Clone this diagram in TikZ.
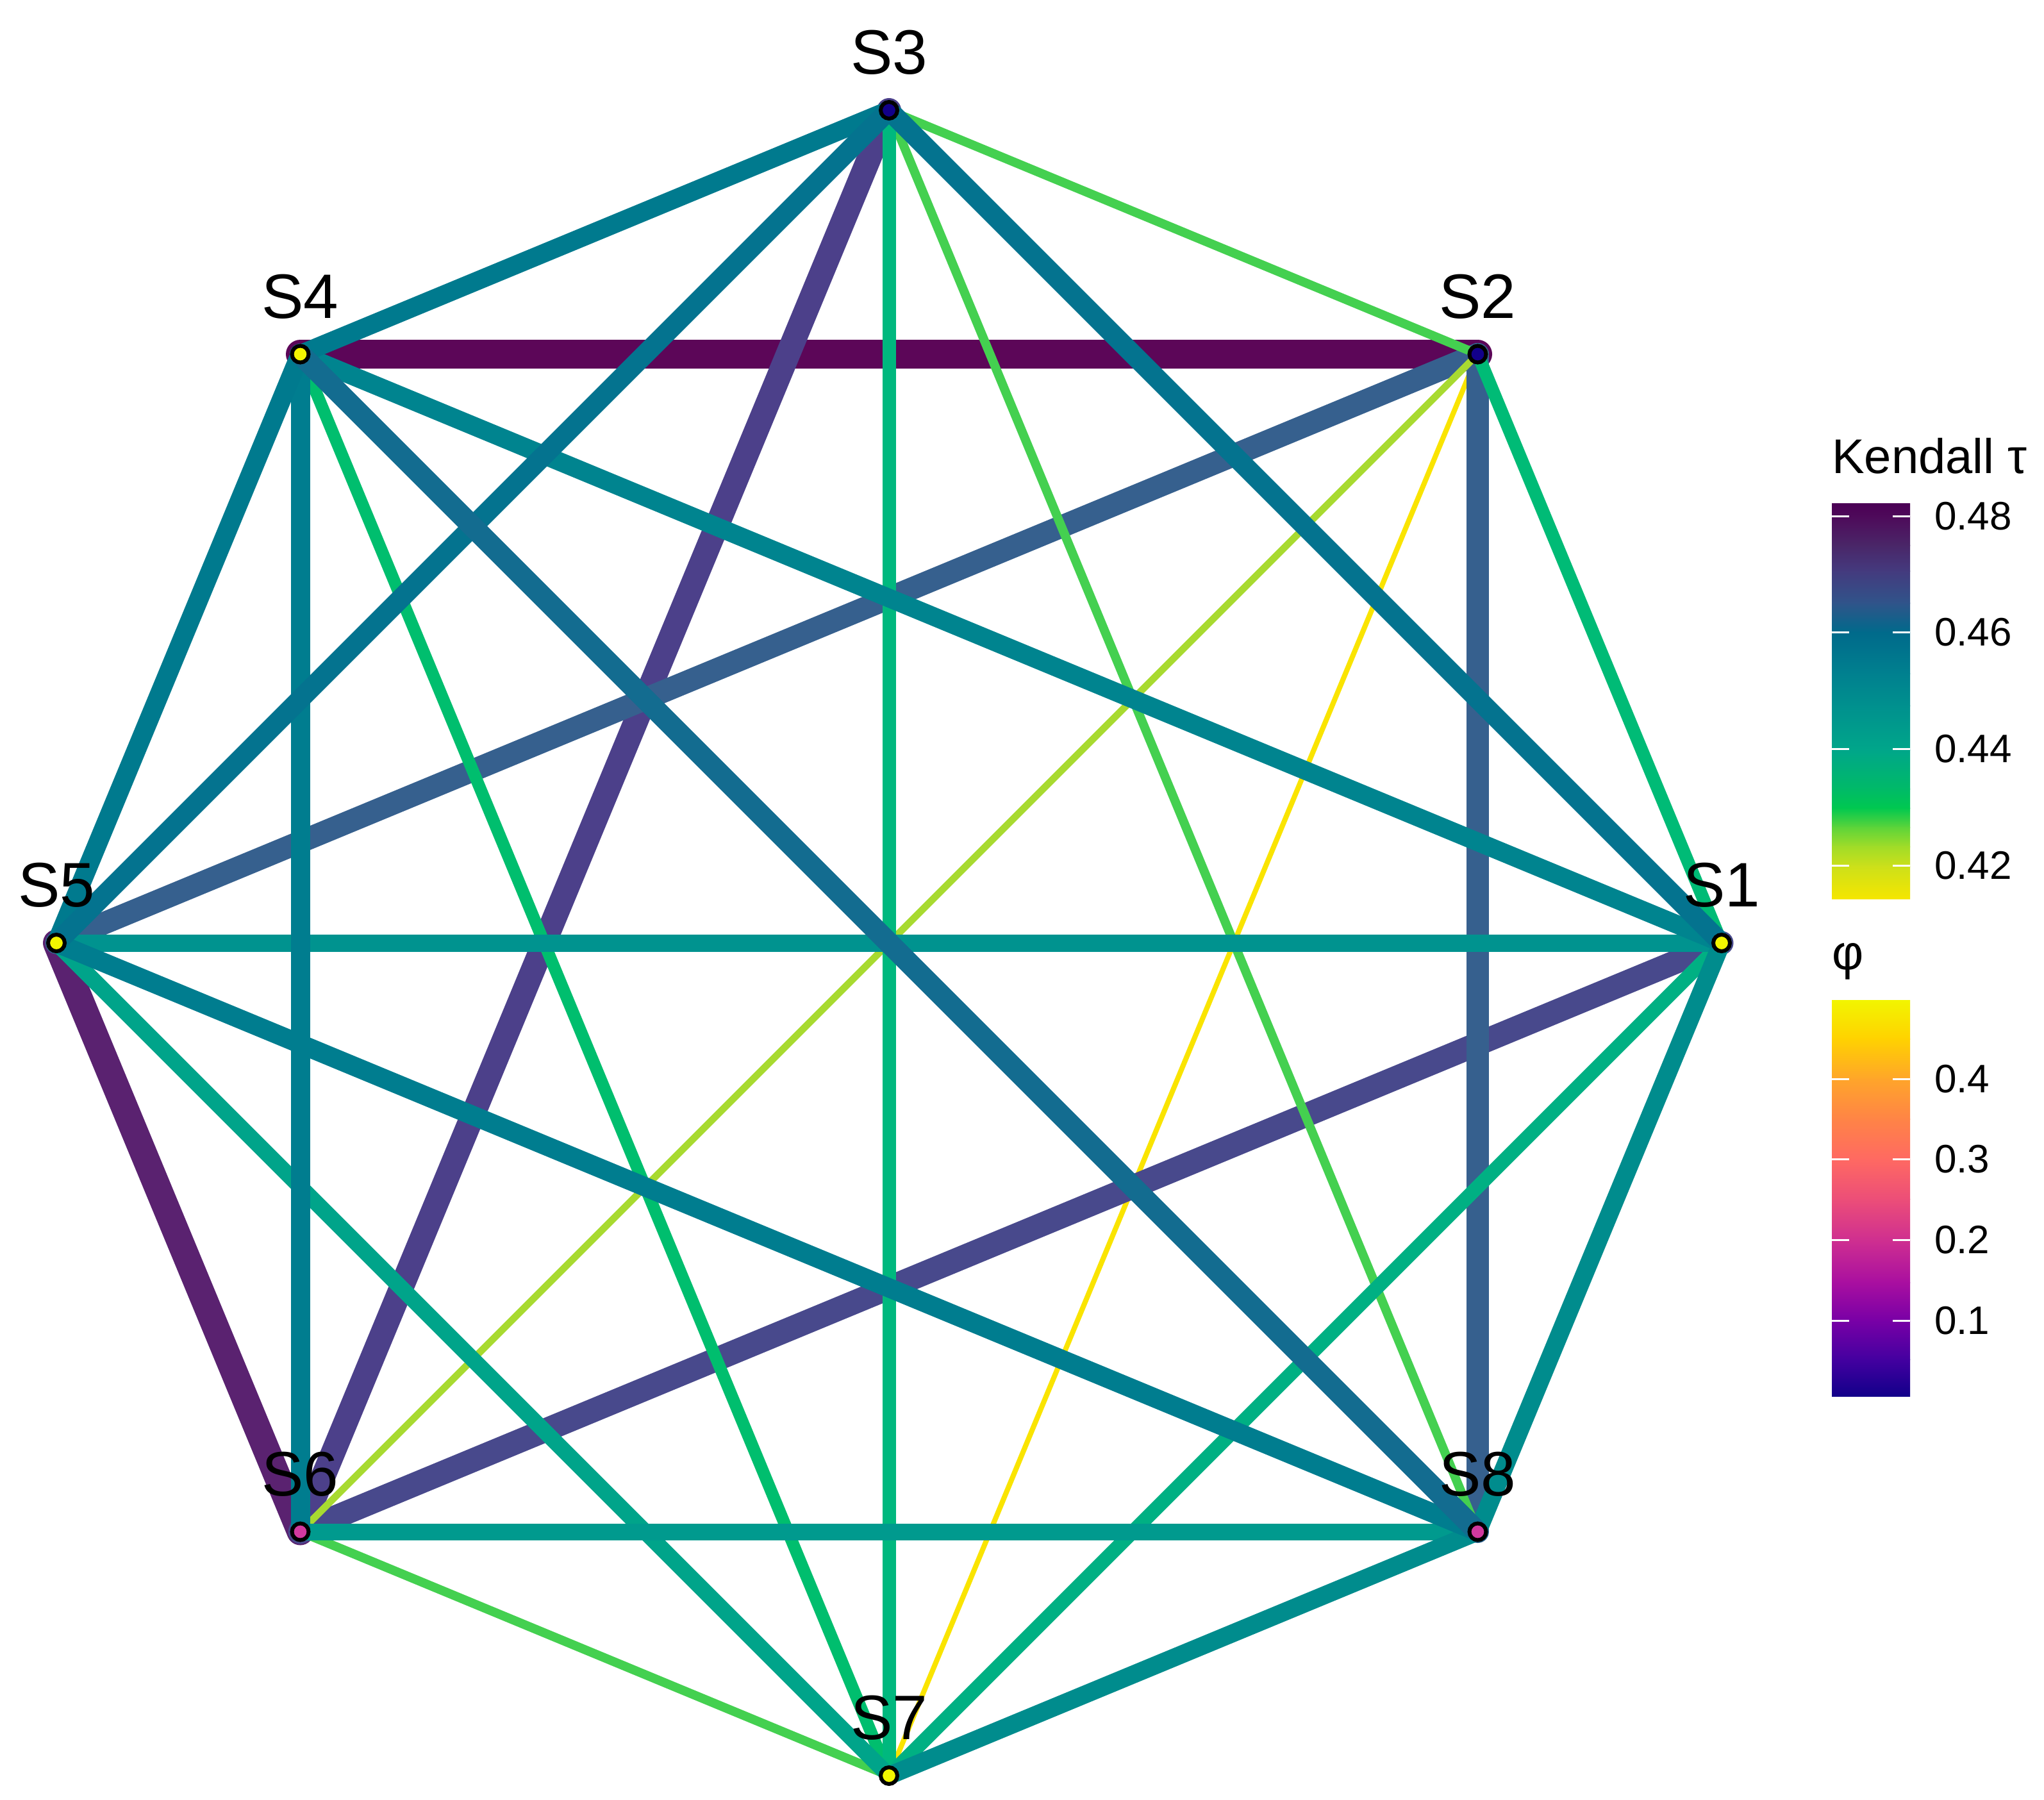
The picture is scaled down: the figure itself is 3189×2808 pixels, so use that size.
\documentclass[tikz,border=0pt]{standalone}
\usepackage{fontspec}
\setmainfont{Liberation Sans}
% edge colours
\definecolor{cA}{HTML}{FAE400}
\definecolor{cB}{HTML}{A8DA30}
\definecolor{cC}{HTML}{44D050}
\definecolor{cD}{HTML}{00BE6E}
\definecolor{cE}{HTML}{00BB76}
\definecolor{cF}{HTML}{00B87E}
\definecolor{cG}{HTML}{00B083}
\definecolor{cH}{HTML}{00A48A}
\definecolor{cI}{HTML}{009A8E}
\definecolor{cJ}{HTML}{00938F}
\definecolor{cK}{HTML}{008C8D}
\definecolor{cL}{HTML}{00848F}
\definecolor{cM}{HTML}{007D8F}
\definecolor{cN}{HTML}{007A8E}
\definecolor{cO}{HTML}{04738F}
\definecolor{cP}{HTML}{136C90}
\definecolor{cQ}{HTML}{36608E}
\definecolor{cR}{HTML}{48498C}
\definecolor{cS}{HTML}{4C408A}
\definecolor{cT}{HTML}{5A2270}
\definecolor{cU}{HTML}{5C0658}
% node colours
\definecolor{nBlue}{HTML}{12008A}
\definecolor{nYel}{HTML}{F2F500}
\definecolor{nMag}{HTML}{D2399F}
% viridis-like legend stops
\definecolor{v0}{HTML}{4B0055}
\definecolor{v1}{HTML}{4E0A5A}
\definecolor{v2}{HTML}{4A2668}
\definecolor{v3}{HTML}{443A7E}
\definecolor{v4}{HTML}{30548A}
\definecolor{v5}{HTML}{006A8B}
\definecolor{v6}{HTML}{00808F}
\definecolor{v7}{HTML}{00908E}
\definecolor{v8}{HTML}{00A68A}
\definecolor{v9}{HTML}{00BA68}
\definecolor{v10}{HTML}{00C850}
\definecolor{v11}{HTML}{5CD43A}
\definecolor{v12}{HTML}{A0DC28}
\definecolor{v13}{HTML}{CCE01A}
\definecolor{v14}{HTML}{F5E600}
% plasma-like legend stops
\definecolor{q0}{HTML}{F2F500}
\definecolor{q1}{HTML}{FFD200}
\definecolor{q2}{HTML}{FFA52A}
\definecolor{q3}{HTML}{FF8446}
\definecolor{q4}{HTML}{FF6962}
\definecolor{q5}{HTML}{EC4E78}
\definecolor{q6}{HTML}{CF2F90}
\definecolor{q7}{HTML}{A90FA0}
\definecolor{q8}{HTML}{7800A6}
\definecolor{q9}{HTML}{4400A0}
\definecolor{q10}{HTML}{12008A}
\begin{document}
\begin{tikzpicture}[x=1pt,y=-1pt,
  edge/.style={line cap=round},
  vlabel/.style={font=\fontsize{98}{110}\selectfont, inner sep=0pt, anchor=center},
  dot/.style={circle, draw=black, line width=6pt, minimum size=26pt, inner sep=0pt},
  legtitle/.style={font=\fontsize{76}{90}\selectfont, inner sep=0pt, anchor=base west},
  ticklab/.style={font=\fontsize{62}{70}\selectfont, inner sep=0pt, anchor=west},
  tickmark/.style={draw=white, line width=3pt}]
\fill[white] (0,0) rectangle (3189,2808);
\useasboundingbox (0,0) rectangle (3189,2808);

\coordinate (p1) at (2686,1471);
\coordinate (p2) at (2305.5,552.5);
\coordinate (p3) at (1387,172);
\coordinate (p4) at (468.5,552.5);
\coordinate (p5) at (88,1471);
\coordinate (p6) at (468.5,2389.5);
\coordinate (p7) at (1387,2770);
\coordinate (p8) at (2305.5,2389.5);

% edges
\draw[edge, line width=8pt, draw=cA] (p2) -- (p7);
\draw[edge, line width=45pt, draw=cU] (p4) -- (p2);
\draw[edge, line width=42pt, draw=cT] (p5) -- (p6);
\draw[edge, line width=38pt, draw=cS] (p3) -- (p6);
\draw[edge, line width=37pt, draw=cR] (p6) -- (p1);
\draw[edge, line width=35pt, draw=cQ] (p2) -- (p5);
\draw[edge, line width=35pt, draw=cQ] (p2) -- (p8);
\draw[edge, line width=11pt, draw=cB] (p2) -- (p6);
\draw[edge, line width=14pt, draw=cC] (p3) -- (p2);
\draw[edge, line width=14pt, draw=cC] (p3) -- (p8);
\draw[edge, line width=14pt, draw=cC] (p6) -- (p7);
\draw[edge, line width=19pt, draw=cD] (p4) -- (p7);
\draw[edge, line width=20pt, draw=cE] (p2) -- (p1);
\draw[edge, line width=21pt, draw=cF] (p3) -- (p7);
\draw[edge, line width=22pt, draw=cG] (p7) -- (p1);
\draw[edge, line width=25pt, draw=cH] (p5) -- (p7);
\draw[edge, line width=26pt, draw=cI] (p6) -- (p8);
\draw[edge, line width=27pt, draw=cJ] (p5) -- (p1);
\draw[edge, line width=28pt, draw=cK] (p7) -- (p8);
\draw[edge, line width=28pt, draw=cK] (p8) -- (p1);
\draw[edge, line width=29pt, draw=cL] (p4) -- (p1);
\draw[edge, line width=30pt, draw=cM] (p5) -- (p8);
\draw[edge, line width=30pt, draw=cM] (p4) -- (p6);
\draw[edge, line width=30pt, draw=cN] (p4) -- (p5);
\draw[edge, line width=29pt, draw=cN] (p3) -- (p4);
\draw[edge, line width=31pt, draw=cO] (p3) -- (p1);
\draw[edge, line width=31pt, draw=cO] (p3) -- (p5);
\draw[edge, line width=33pt, draw=cP] (p4) -- (p8);

% vertices
\node[dot, fill=nYel] (n1) at (p1) {};
\node[dot, fill=nBlue] (n2) at (p2) {};
\node[dot, fill=nBlue] (n3) at (p3) {};
\node[dot, fill=nYel] (n4) at (p4) {};
\node[dot, fill=nYel] (n5) at (p5) {};
\node[dot, fill=nMag] (n6) at (p6) {};
\node[dot, fill=nYel] (n7) at (p7) {};
\node[dot, fill=nMag] (n8) at (p8) {};

% labels
\node[vlabel] (l1) at (2686,1381) {S1};
\node[vlabel] (l2) at (2305.5,462.5) {S2};
\node[vlabel] (l3) at (1387,82) {S3};
\node[vlabel] (l4) at (468.5,462.5) {S4};
\node[vlabel] (l5) at (88,1381) {S5};
\node[vlabel] (l6) at (468.5,2299.5) {S6};
\node[vlabel] (l7) at (1387,2680) {S7};
\node[vlabel] (l8) at (2305.5,2299.5) {S8};

% legend 1: Kendall tau
\node[legtitle] (t1) at (2858,738) {Kendall τ};
\shade[top color=v0, bottom color=v1] (2858,785) rectangle (2980,806);
\shade[top color=v1, bottom color=v2] (2858,805) rectangle (2980,851);
\shade[top color=v2, bottom color=v3] (2858,850) rectangle (2980,891);
\shade[top color=v3, bottom color=v4] (2858,890) rectangle (2980,941);
\shade[top color=v4, bottom color=v5] (2858,940) rectangle (2980,987);
\shade[top color=v5, bottom color=v6] (2858,986) rectangle (2980,1051);
\shade[top color=v6, bottom color=v7] (2858,1050) rectangle (2980,1101);
\shade[top color=v7, bottom color=v8] (2858,1100) rectangle (2980,1170);
\shade[top color=v8, bottom color=v9] (2858,1169) rectangle (2980,1231);
\shade[top color=v9, bottom color=v10] (2858,1230) rectangle (2980,1261);
\shade[top color=v10, bottom color=v11] (2858,1260) rectangle (2980,1291);
\shade[top color=v11, bottom color=v12] (2858,1290) rectangle (2980,1321);
\shade[top color=v12, bottom color=v13] (2858,1320) rectangle (2980,1352);
\shade[top color=v13, bottom color=v14] (2858,1351) rectangle (2980,1402);
\foreach \yy in {805,986,1168,1350}{
  \draw[tickmark] (2858,\yy) -- (2885,\yy);
  \draw[tickmark] (2953,\yy) -- (2980,\yy);
}
\node[ticklab] (k48) at (3018,805) {0.48};
\node[ticklab] (k46) at (3018,986) {0.46};
\node[ticklab] (k44) at (3018,1168) {0.44};
\node[ticklab] (k42) at (3018,1350) {0.42};

% legend 2: phi
\node[legtitle] (t2) at (2858,1512) {φ};
\shade[top color=q0, bottom color=q1] (2858,1560) rectangle (2980,1621);
\shade[top color=q1, bottom color=q2] (2858,1620) rectangle (2980,1684);
\shade[top color=q2, bottom color=q3] (2858,1683) rectangle (2980,1746);
\shade[top color=q3, bottom color=q4] (2858,1745) rectangle (2980,1809);
\shade[top color=q4, bottom color=q5] (2858,1808) rectangle (2980,1871);
\shade[top color=q5, bottom color=q6] (2858,1870) rectangle (2980,1935);
\shade[top color=q6, bottom color=q7] (2858,1934) rectangle (2980,2001);
\shade[top color=q7, bottom color=q8] (2858,2000) rectangle (2980,2061);
\shade[top color=q8, bottom color=q9] (2858,2060) rectangle (2980,2121);
\shade[top color=q9, bottom color=q10] (2858,2120) rectangle (2980,2178);
\foreach \yy in {1683,1808,1934,2060}{
  \draw[tickmark] (2858,\yy) -- (2885,\yy);
  \draw[tickmark] (2953,\yy) -- (2980,\yy);
}
\node[ticklab] (f4) at (3018,1683) {0.4};
\node[ticklab] (f3) at (3018,1808) {0.3};
\node[ticklab] (f2) at (3018,1934) {0.2};
\node[ticklab] (f1) at (3018,2060) {0.1};
\end{tikzpicture}
\end{document}
